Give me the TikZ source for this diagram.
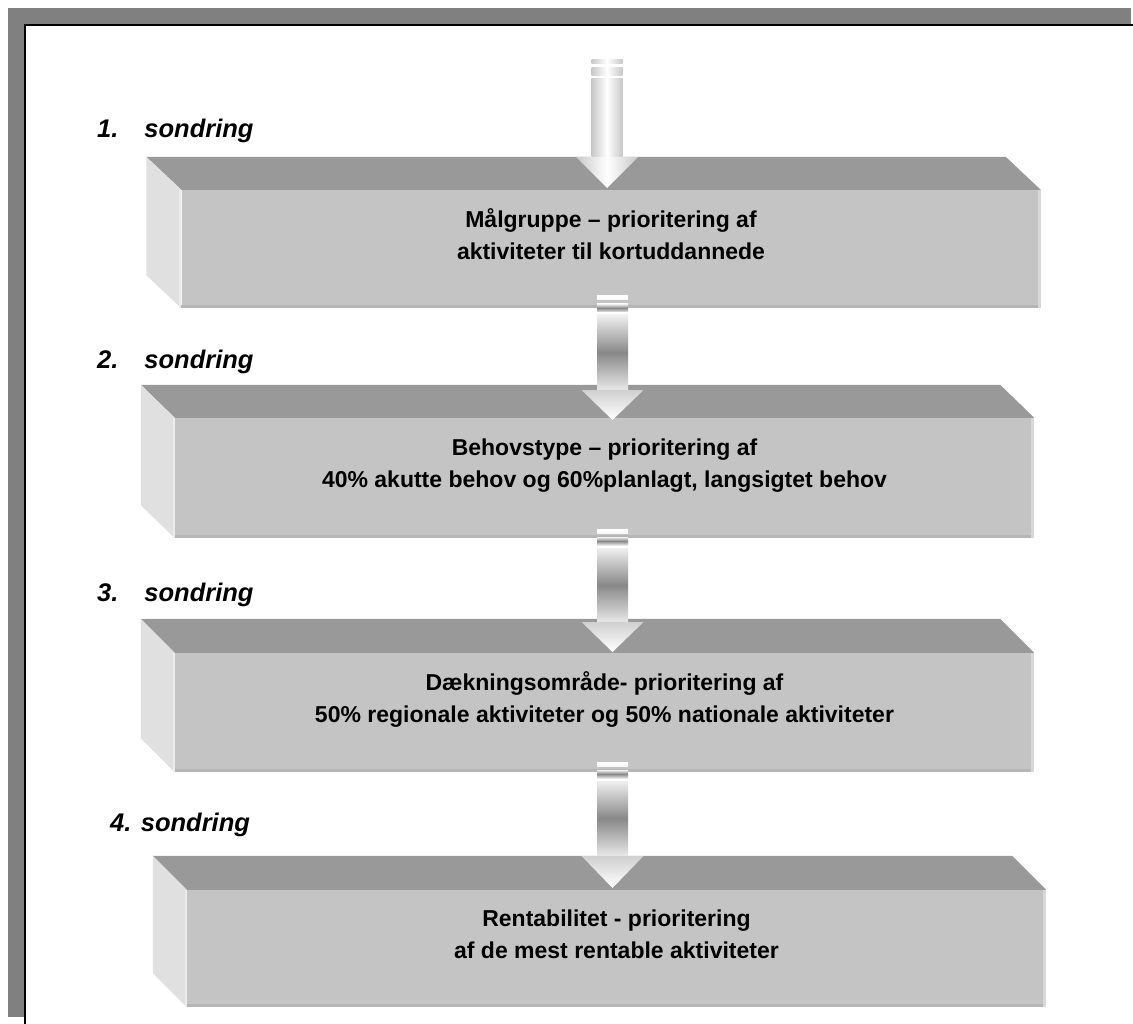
\documentclass[tikz,border=0pt]{standalone}
\usepackage{fontspec}
\setmainfont{Liberation Sans}
\usetikzlibrary{calc}
\definecolor{frameg}{HTML}{808080}
\definecolor{topg}{HTML}{999999}
\definecolor{frontg}{HTML}{C4C4C4}
\definecolor{sideg}{HTML}{E0E0E0}
\definecolor{sidelight}{HTML}{EBEBEB}
\definecolor{botg}{HTML}{B6B6B6}
\definecolor{rightg}{HTML}{D8D8D8}
\definecolor{edgeg}{HTML}{C8C8C8}
\definecolor{midg}{HTML}{888888}
\definecolor{headg}{HTML}{D0D0D0}
\newcommand\slab[2]{%
  \fill[topg] (#1.north west) -- ++(#2) -- ($(#1.north east)+(#2)$) -- (#1.north east) -- cycle;
  \fill[sideg] (#1.north west) -- ++(#2) -- ($(#1.south west)+(#2)$) -- (#1.south west) -- cycle;
  \fill[sidelight] (#1.north west) rectangle ($(#1.south west)+(-2,0)$);
  \fill[botg] (#1.south west) rectangle ($(#1.south east)+(0,-3)$);
  \fill[rightg] (#1.north east) rectangle ($(#1.south east)+(-3,0)$);
}
% name, cx, stripe top, head top, tip, shaft style, head style, stripe style
\newcommand\myarrow[8]{%
  \coordinate (#1s) at (#2,#3);
  \coordinate (#1h) at (#2,#4);
  \coordinate (#1t) at (#2,#5);
  \shade[#8] ($(#1s)+(-15.5,0)$) rectangle ($(#1s)+(15.5,4)$);
  \shade[#6] ($(#1s)+(-15.5,8)$) rectangle ($(#1s)+(15.5,16)$);
  \shade[#6] ($(#1s)+(-15.5,19)$) rectangle ($(#1h)+(15.5,0)$);
  \shade[#7] ($(#1h)+(-31,0)$) -- ($(#1h)+(31,0)$) -- (#1t) -- cycle;
}
\begin{document}
\begin{tikzpicture}[x=1pt,y=-1pt,
  front/.style={fill=frontg, draw=none, inner sep=0pt, minimum width=859pt},
  boxtext/.style={align=center, font=\fontsize{23}{32}\selectfont\bfseries, inner sep=0pt},
  lab/.style={font=\fontsize{25.5}{28}\selectfont\bfseries\itshape, inner sep=0pt, anchor=base west},
  hshade/.style={left color=edgeg, right color=edgeg, middle color=white},
  vshade/.style={top color=white!94!black, bottom color=white!91!black, middle color=midg},
  headshade/.style={top color=headg, bottom color=white},
  whitestripe/.style={top color=white, bottom color=white!97!black}
]
\useasboundingbox (0,0) rectangle (1133,1024);
\fill[white] (0,0) rectangle (1133,1024);
% frame
\fill[frameg] (8,8) rectangle (1131,24);
\fill[frameg] (8,8) rectangle (24,1017);
\draw[black, line width=2pt] (1133,25) -- (25,25) -- (25,1024);

% boxes
\node[front, minimum height=118pt] (b1) at (611,249) {};
\slab{b1}{-35,-33}
\node[front, minimum height=120pt] (b2) at (604.5,478) {};
\slab{b2}{-34,-33}
\node[front, minimum height=119pt] (b3) at (604.5,712.5) {};
\slab{b3}{-34,-34}
\node[front, minimum height=117pt] (b4) at (616.5,948.5) {};
\slab{b4}{-34,-34}

% texts
\node[boxtext] (t1) at ($(b1.center)+(0,-15)$) {Målgruppe – prioritering af\\aktiviteter til kortuddannede};
\node[boxtext] (t2) at ($(b2.center)+(0,-12)$) {Behovstype – prioritering af\\40\% akutte behov og 60\%planlagt, langsigtet behov};
\node[boxtext] (t3) at ($(b3.center)+(0,-13)$) {Dækningsområde- prioritering af\\50\% regionale aktiviteter og 50\% nationale aktiviteter};
\node[boxtext] (t4) at ($(b4.center)+(0,-14)$) {Rentabilitet - prioritering\\af de mest rentable aktiviteter};

% labels
\node[lab] (l1) at (97,138) {1.\hspace{26pt}sondring};
\node[lab] (l2) at (97,369) {2.\hspace{26pt}sondring};
\node[lab] (l3) at (97,601) {3.\hspace{26pt}sondring};
\node[lab] (l4) at (110,831) {4. sondring};

% arrows
\myarrow{a1}{607}{60}{157}{188}{hshade}{hshade}{hshade}
\myarrow{a2}{612.5}{296}{390}{420}{vshade}{headshade}{whitestripe}
\myarrow{a3}{612.5}{529}{622}{652}{vshade}{headshade}{whitestripe}
\myarrow{a4}{612.5}{762}{856}{888}{vshade}{headshade}{whitestripe}
\end{tikzpicture}
\end{document}
